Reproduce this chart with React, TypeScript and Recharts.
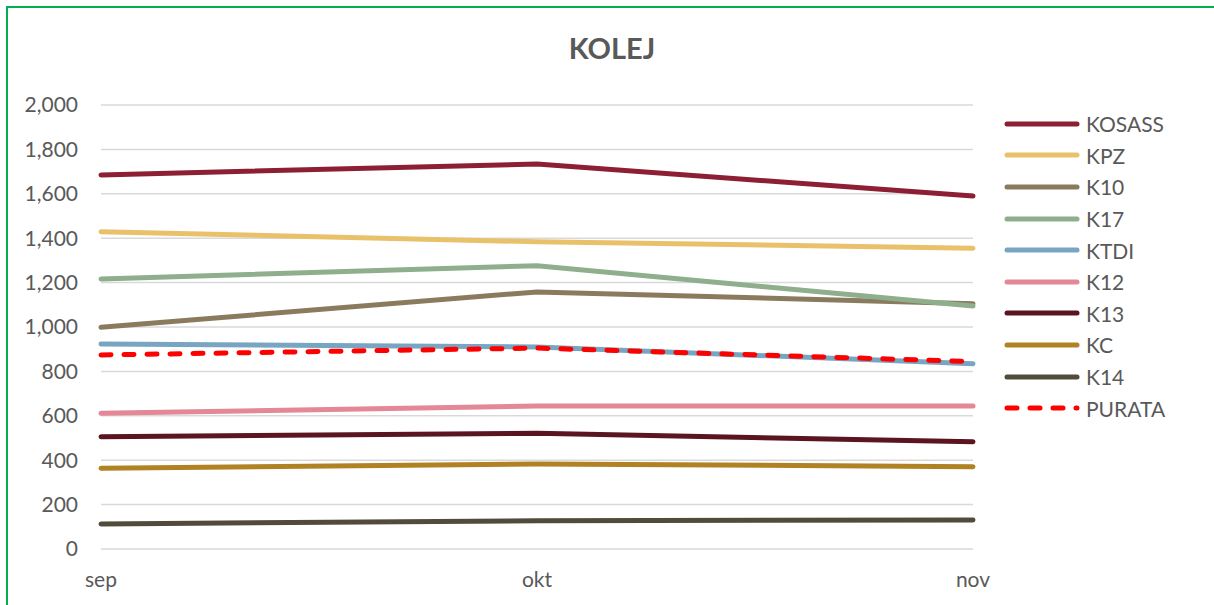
import React from 'react'
import { LineChart, Line, XAxis, YAxis, CartesianGrid } from 'recharts'

const months = ['sep', 'okt', 'nov']
const seriesNames = ['KOSASS', 'KPZ', 'K10', 'K17', 'KTDI', 'K12', 'K13', 'KC', 'K14', 'PURATA']
const kosass = [1685, 1734, 1590]
const kpz = [1429, 1384, 1355]
const k10 = [999, 1158, 1105]
const k17 = [1216, 1276, 1095]
const ktdi = [923, 910, 835]
const k12 = [611, 644, 644]
const k13 = [506, 521, 483]
const kc = [364, 383, 371]
const k14 = [113, 127, 131]
const purata = [874, 905, 844]
const yTicks = [0, 200, 400, 600, 800, 1000, 1200, 1400, 1600, 1800, 2000]

const seriesValues = [kosass, kpz, k10, k17, ktdi, k12, k13, kc, k14, purata]
const COLORS = ['#8d1f35', '#e9c16b', '#8a7b5f', '#8eae8c', '#78a5c1', '#e48796', '#5b1521', '#b08224', '#524a3a', '#ff0000']

const data = months.map((m, i) => {
    const row: any = { month: m }
    seriesNames.forEach((s, j) => { row[s] = seriesValues[j][i] })
    return row
})

const FONT = 'Lato, "Open Sans", sans-serif'
const TEXT = '#595959'

function LegendBox() {
    return (
        <div style={{ fontFamily: FONT, fontSize: 21, color: TEXT }}>
            {seriesNames.map((s, i) => (
                <div key={s} style={{ display: 'flex', alignItems: 'center', height: 31.6 }}>
                    <svg width={80} height={10}>
                        <line
                            x1={3} y1={5} x2={73} y2={5}
                            stroke={COLORS[i]} strokeWidth={5} strokeLinecap="round"
                            strokeDasharray={s === 'PURATA' ? '10 13' : undefined}
                        />
                    </svg>
                    <span style={{ marginLeft: 2, lineHeight: 1 }}>{s}</span>
                </div>
            ))}
        </div>
    )
}

export default function App() {
    return (
        <div style={{ position: 'absolute', left: 0, top: 0, width: 1214, height: 605, background: '#fff', overflow: 'hidden' }}>
            {/* green frame: only the left and top edges are in view */}
            <div style={{ position: 'absolute', left: 6, top: 6, width: 2, height: 600, background: '#00b050' }} />
            <div style={{ position: 'absolute', left: 6, top: 6, width: 1208, height: 2, background: '#00b050' }} />
            <div style={{
                position: 'absolute', left: 0, width: 1224, top: 30, textAlign: 'center',
                fontFamily: FONT, fontWeight: 700, fontSize: 29, color: TEXT
            }}>KOLEJ</div>
            <div style={{ position: 'absolute', left: 0, top: 0 }}>
                <LineChart width={1214} height={605} data={data} margin={{ top: 105, right: 241, bottom: 26, left: 0 }}>
                    <CartesianGrid vertical={false} stroke="#d9d9d9" strokeWidth={1.5} />
                    <XAxis
                        dataKey="month"
                        height={30}
                        axisLine={false}
                        tickLine={false}
                        tickSize={0}
                        tickMargin={23}
                        tick={{ fontSize: 21, fill: TEXT, fontFamily: FONT }}
                        interval={0}
                    />
                    <YAxis
                        width={101}
                        domain={[0, 2000]}
                        ticks={yTicks}
                        axisLine={false}
                        tickLine={false}
                        tickSize={0}
                        tickMargin={23}
                        tickFormatter={(v: number) => v.toLocaleString('en-US')}
                        tick={{ fontSize: 21, fill: TEXT, fontFamily: FONT }}
                    />
                    {seriesNames.map((s, i) => (
                        <Line
                            key={s}
                            type="linear"
                            dataKey={s}
                            stroke={COLORS[i]}
                            strokeWidth={5}
                            strokeLinecap="round"
                            strokeDasharray={s === 'PURATA' ? '10 13' : undefined}
                            dot={false}
                            activeDot={false}
                            isAnimationActive={false}
                        />
                    ))}
                </LineChart>
            </div>
            <div style={{ position: 'absolute', left: 1004, top: 108 }}>
                <LegendBox />
            </div>
        </div>
    )
}
